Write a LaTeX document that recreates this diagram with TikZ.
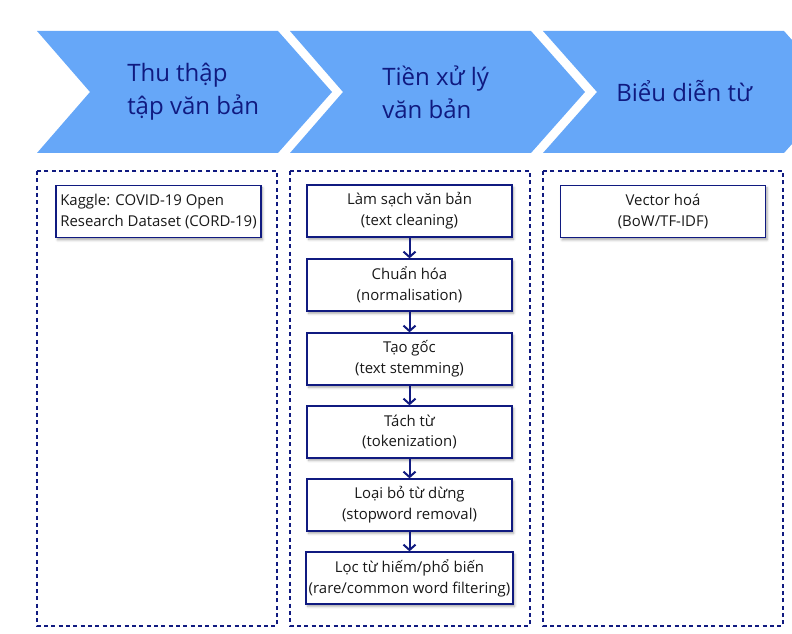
\documentclass[tikz,border=0pt]{standalone}
\usepackage{fontspec}
\setmainfont{Open Sans}
\usetikzlibrary{arrows.meta,shadows.blur}
\definecolor{chevblue}{RGB}{102,167,248}
\definecolor{navy}{RGB}{16,26,128}
\begin{document}
\begin{tikzpicture}[x=0.75pt,y=-0.75pt,
    chev/.style={fill=chevblue},
    head/.style={text=navy,font=\fontsize{18}{25}\selectfont,align=left,anchor=west,inner sep=0pt},
    group/.style={draw=navy,line width=0.8pt,dash pattern=on 3pt off 2.5pt},
    stepbox/.style={draw=navy,fill=white,line width=1pt,minimum width=153.75pt,minimum height=39pt,
        inner xsep=2pt,align=center,text=black!90,font=\fontsize{11.2}{15.5}\selectfont,
        blur shadow={shadow xshift=1.2pt,shadow yshift=-1.8pt,shadow blur radius=1.8pt,shadow opacity=35}},
    flow/.style={draw=navy,line width=1.5pt,-{Straight Barb[length=4pt,width=9pt]}}]
    \useasboundingbox (0,0) rectangle (792,634);
    \clip (0,0) rectangle (792,634);
    % chevrons
    \fill[chev] (37,31) -- (278,31) -- (332,92) -- (278,153) -- (37,153) -- (90,92) -- cycle;
    \fill[chev] (290,31) -- (531,31) -- (585,92) -- (531,153) -- (290,153) -- (343,92) -- cycle;
    \fill[chev] (543,31) -- (784,31) -- (838,92) -- (784,153) -- (543,153) -- (597,92) -- cycle;
    \node (collect) at (127,92) [head] {Thu thập\\tập văn bản};
    \node (prep) at (382,92) [head] {Tiền xử lý\\văn bản};
    \node (repr) at (616,91) [head] {Biểu diễn từ};
    % groups
    \draw[group] (37,171) rectangle (277,626);
    \draw[group] (290,171) rectangle (530,626);
    \draw[group] (543,171) rectangle (783,626);
    % steps
    \node (kaggle) at (158.5,211.5) [stepbox,align=left] {Kaggle: COVID-19 Open\\Research Dataset (CORD-19)};
    \node (clean) at (409.5,211) [stepbox] {Làm sạch văn bản\\(text cleaning)};
    \node (norm) at (409.5,285) [stepbox] {Chuẩn hóa\\(normalisation)};
    \node (stem) at (409.5,359) [stepbox] {Tạo gốc\\(text stemming)};
    \node (token) at (409.5,432) [stepbox] {Tách từ\\(tokenization)};
    \node (stopw) at (409.5,505) [stepbox] {Loại bỏ từ dừng\\(stopword removal)};
    \node (filter) at (409.5,578) [stepbox] {Lọc từ hiếm/phổ biến\\(rare/common word filtering)};
    \node (vector) at (663,211.5) [stepbox] {Vector hoá\\(BoW/TF-IDF)};
    \draw[flow] (clean) -- (norm);
    \draw[flow] (norm) -- (stem);
    \draw[flow] (stem) -- (token);
    \draw[flow] (token) -- (stopw);
    \draw[flow] (stopw) -- (filter);
\end{tikzpicture}
\end{document}
